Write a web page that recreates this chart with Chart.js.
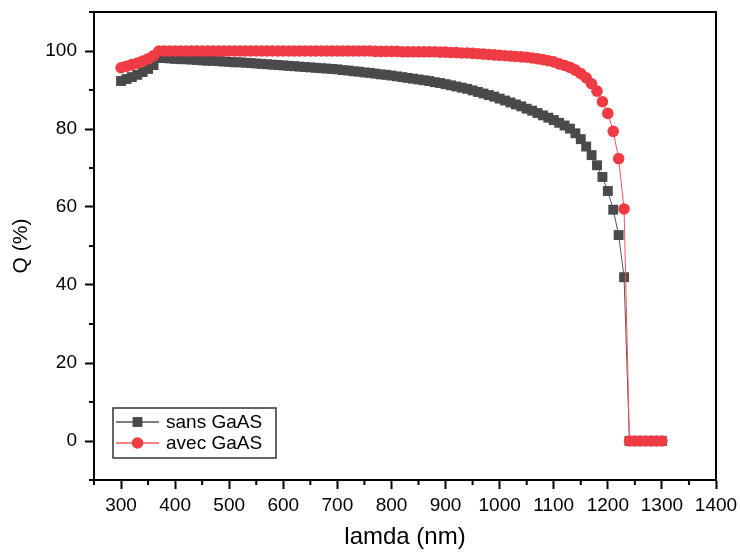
<!DOCTYPE html>
<html>
<head>
<meta charset="utf-8">
<script src="https://cdn.jsdelivr.net/npm/chart.js@4/dist/chart.umd.min.js"></script>
<style>
  html, body { margin: 0; padding: 0; background: #fff; }
  canvas { display: block; }
</style>
</head>
<body>
<canvas id="qChart" width="740" height="554"></canvas>
<script>
// longueurs d'onde (nm)
const lamda = [
  300, 310, 320, 330, 340, 350, 360, 370, 380, 390,
  400, 410, 420, 430, 440, 450, 460, 470, 480, 490,
  500, 510, 520, 530, 540, 550, 560, 570, 580, 590,
  600, 610, 620, 630, 640, 650, 660, 670, 680, 690,
  700, 710, 720, 730, 740, 750, 760, 770, 780, 790,
  800, 810, 820, 830, 840, 850, 860, 870, 880, 890,
  900, 910, 920, 930, 940, 950, 960, 970, 980, 990,
  1000, 1010, 1020, 1030, 1040, 1050, 1060, 1070, 1080, 1090,
  1100, 1110, 1120, 1130, 1140, 1150, 1160, 1170, 1180, 1190,
  1200, 1210, 1220, 1230, 1240, 1250, 1260, 1270, 1280, 1290,
  1300
];

// Q (%) sans GaAS
const sansGaAS = [
  92.3, 92.8, 93.3, 93.9, 94.6, 95.4, 96.4, 98.2, 98.2, 98.1,
  98.0, 97.9, 97.9, 97.8, 97.7, 97.6, 97.5, 97.5, 97.4, 97.3,
  97.2, 97.1, 97.1, 97.0, 96.9, 96.8, 96.7, 96.6, 96.5, 96.4,
  96.3, 96.2, 96.1, 96.0, 95.9, 95.8, 95.7, 95.6, 95.5, 95.4,
  95.3, 95.1, 95.0, 94.8, 94.7, 94.5, 94.4, 94.2, 94.0, 93.9,
  93.7, 93.5, 93.3, 93.1, 92.9, 92.7, 92.5, 92.3, 92.0, 91.8,
  91.5, 91.2, 90.9, 90.6, 90.3, 89.9, 89.5, 89.1, 88.7, 88.3,
  87.8, 87.3, 86.8, 86.3, 85.8, 85.2, 84.7, 84.1, 83.5, 82.9,
  82.3, 81.6, 80.9, 80.1, 78.9, 77.4, 75.5, 73.3, 70.7, 67.7,
  64.1, 59.3, 52.8, 42.0, 0, 0, 0, 0, 0, 0,
  0
];

// Q (%) avec GaAS
const avecGaAS = [
  95.7, 96.1, 96.5, 96.9, 97.4, 98.0, 98.8, 100.0, 100.0, 100.0,
  100.0, 100.0, 100.0, 100.0, 100.0, 100.0, 100.0, 100.0, 100.0, 100.0,
  100.0, 100.0, 100.0, 100.0, 100.0, 100.0, 100.0, 100.0, 100.0, 100.0,
  100.0, 100.0, 100.0, 100.0, 100.0, 100.0, 100.0, 100.0, 100.0, 100.0,
  100.0, 100.0, 100.0, 100.0, 100.0, 100.0, 100.0, 99.9, 99.9, 99.9,
  99.9, 99.9, 99.8, 99.8, 99.8, 99.8, 99.8, 99.8, 99.8, 99.7,
  99.7, 99.6, 99.6, 99.5, 99.5, 99.4, 99.3, 99.2, 99.1, 99.0,
  98.9, 98.8, 98.7, 98.6, 98.5, 98.4, 98.2, 98.0, 97.8, 97.5,
  97.2, 96.7, 96.3, 95.8, 95.1, 94.2, 93.1, 91.6, 89.7, 87.0,
  84.0, 79.4, 72.4, 59.5, 0, 0, 0, 0, 0, 0,
  0
];

const xTicksMajor = [300, 400, 500, 600, 700, 800, 900, 1000, 1100, 1200, 1300, 1400];
const yTicksMajor = [0, 20, 40, 60, 80, 100];

const FONT = "'Liberation Sans', Arial, sans-serif";

// cadre du graphe + petites graduations
const framePlugin = {
  id: 'frame',
  afterDraw(chart) {
    const ctx = chart.ctx;
    const a = chart.chartArea;
    ctx.save();
    ctx.strokeStyle = '#000';
    ctx.lineWidth = 2;
    ctx.beginPath();
    ctx.moveTo(a.left, a.top);
    ctx.lineTo(a.right, a.top);
    ctx.lineTo(a.right, a.bottom);
    ctx.stroke();

    // graduations mineures
    const xs = chart.scales.x, ys = chart.scales.y;
    ctx.beginPath();
    xs.ticks.forEach(t => {
      if (xTicksMajor.includes(t.value)) return;
      const px = xs.getPixelForValue(t.value);
      ctx.moveTo(px, a.bottom);
      ctx.lineTo(px, a.bottom + 5);
    });
    ys.ticks.forEach(t => {
      if (yTicksMajor.includes(t.value)) return;
      const py = ys.getPixelForValue(t.value);
      ctx.moveTo(a.left, py);
      ctx.lineTo(a.left - 5, py);
    });
    ctx.stroke();
    ctx.restore();
  }
};

// légende dans la zone du graphe (en bas à gauche)
const legendPlugin = {
  id: 'boxLegend',
  afterDraw(chart) {
    const ctx = chart.ctx;
    const a = chart.chartArea;
    const bx = a.left + 19, by = a.bottom - 72;
    const bw = 163, bh = 50;
    ctx.save();
    ctx.strokeStyle = '#333';
    ctx.lineWidth = 1.5;
    ctx.strokeRect(bx, by, bw, bh);

    const rows = [0, 1];
    rows.forEach(i => {
      const ds = chart.data.datasets[i];
      const y = by + 14 + i * 21;
      ctx.strokeStyle = ds.borderColor;
      ctx.lineWidth = 1.5;
      ctx.beginPath();
      ctx.moveTo(bx + 3, y);
      ctx.lineTo(bx + 46, y);
      ctx.stroke();
      ctx.fillStyle = ds.pointBackgroundColor;
      ctx.strokeStyle = ds.pointBackgroundColor;
      Chart.helpers.drawPoint(ctx, {
        pointStyle: ds.pointStyle,
        radius: ds.pointRadius,
        rotation: 0,
        borderWidth: 0
      }, bx + 24.5, y);
      ctx.fillStyle = '#000';
      ctx.font = '19px ' + FONT;
      ctx.textBaseline = 'middle';
      ctx.textAlign = 'left';
      ctx.fillText(ds.label, bx + 53, y + 1);
    });
    ctx.restore();
  }
};

const ctx = document.getElementById('qChart');

new Chart(ctx, {
  type: 'line',
  data: {
    datasets: [
      {
        label: 'sans GaAS',
        data: lamda.map((l, i) => ({ x: l, y: sansGaAS[i] })),
        borderColor: '#555555',
        borderWidth: 1,
        pointStyle: 'rect',
        pointRadius: 7,
        pointBackgroundColor: '#4a4a4a',
        pointBorderWidth: 0,
        tension: 0,
        order: 1
      },
      {
        label: 'avec GaAS',
        data: lamda.map((l, i) => ({ x: l, y: avecGaAS[i] })),
        borderColor: '#f0555c',
        borderWidth: 1,
        pointStyle: 'circle',
        pointRadius: 5.8,
        pointBackgroundColor: '#ef3b43',
        pointBorderWidth: 0,
        tension: 0,
        order: 0
      }
    ]
  },
  options: {
    responsive: false,
    animation: false,
    devicePixelRatio: 1,
    layout: { padding: { top: 12, right: 24, left: 0, bottom: 0 } },
    plugins: {
      legend: { display: false },
      tooltip: { enabled: false }
    },
    scales: {
      x: {
        type: 'linear',
        min: 250,
        max: 1400,
        afterFit: s => { s.height = 74; s.paddingLeft = 0; s.paddingRight = 0; },
        border: { display: true, color: '#000', width: 2 },
        grid: {
          drawOnChartArea: false,
          drawTicks: true,
          tickLength: 9,
          tickWidth: 2,
          tickColor: c => xTicksMajor.includes(c.tick.value) ? '#000' : 'rgba(0,0,0,0)'
        },
        ticks: {
          stepSize: 50,
          autoSkip: false,
          maxRotation: 0,
          padding: 5,
          color: '#000',
          font: { family: FONT, size: 19 },
          callback: v => xTicksMajor.includes(v) ? String(v) : ''
        },
        title: {
          display: true,
          text: 'lamda (nm)',
          color: '#000',
          font: { family: FONT, size: 24 },
          padding: { top: 0, bottom: 2 }
        }
      },
      y: {
        min: -10,
        max: 110,
        afterFit: s => { s.width = 94; s.paddingTop = 0; s.paddingBottom = 0; },
        border: { display: true, color: '#000', width: 2 },
        grid: {
          drawOnChartArea: false,
          drawTicks: true,
          tickLength: 9,
          tickWidth: 2,
          tickColor: c => yTicksMajor.includes(c.tick.value) ? '#000' : 'rgba(0,0,0,0)'
        },
        ticks: {
          stepSize: 10,
          autoSkip: false,
          padding: 8,
          color: '#000',
          font: { family: FONT, size: 19 },
          callback: v => yTicksMajor.includes(v) ? String(v) : ''
        },
        title: {
          display: true,
          text: 'Q (%)',
          color: '#000',
          font: { family: FONT, size: 21 },
          padding: { top: 9, bottom: 0 }
        }
      }
    }
  },
  plugins: [framePlugin, legendPlugin]
});
</script>
</body>
</html>
